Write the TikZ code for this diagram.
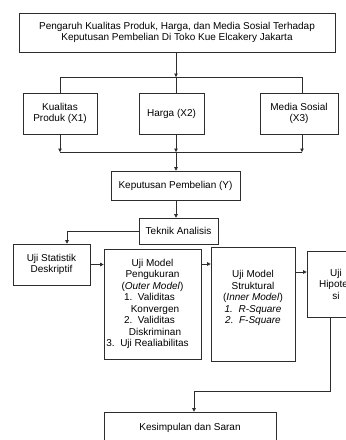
\documentclass[tikz,border=0pt]{standalone}
\usepackage{fontspec}
\setmainfont{Liberation Sans}
\usetikzlibrary{arrows.meta}
\definecolor{linec}{RGB}{45,45,45}
\tikzset{
  box/.style={draw=linec, line width=0.6pt, inner sep=0pt, align=center,
    font=\fontsize{10}{11.5}\selectfont, text=black},
  conn/.style={draw=linec, line width=0.6pt},
  arr/.style={conn, -{Triangle[length=3.5pt,width=3.5pt]}}
}
\begin{document}
\begin{tikzpicture}[x=1pt,y=-1pt]
\clip (0,0) rectangle (346,440);
\fill[white] (0,0) rectangle (346,440);

\node[box, minimum width=316, minimum height=39] (top) at (177,32.5)
  {Pengaruh Kualitas Produk, Harga, dan Media Sosial Terhadap\\Keputusan Pembelian Di Toko Kue Elcakery Jakarta};

\node[box, minimum width=74, minimum height=41] (kp) at (60,113.5) {Kualitas\\Produk (X1)};
\node[box, minimum width=65, minimum height=41] (hg) at (171.5,113.5) {Harga (X2)};
\node[box, minimum width=78, minimum height=41] (ms) at (299,113.5) {Media Sosial\\(X3)};

\node[box, minimum width=129, minimum height=29] (kep) at (175.5,185.5) {Keputusan Pembelian (Y)};
\node[box, minimum width=79, minimum height=26] (tek) at (178.5,231) {Teknik Analisis};

\node[box, minimum width=77, minimum height=41] (us) at (51.5,264.5) {Uji Statistik\\Deskriptif};
\node[box, minimum width=97, minimum height=110] (um) at (152.5,304)
  {Uji Model\\Pengukuran\\(\textit{Outer Model})\\\hspace*{-6pt}1.\ \ Validitas\\\hspace*{5pt}Konvergen\\\hspace*{-6pt}2.\ \ Validitas\\\hspace*{5pt}Diskriminan\\\hspace*{-10pt}3.\ \ Uji Realiabilitas};
\node[box, minimum width=84, minimum height=114] (sm) at (253,304)
  {Uji Model\\Struktural\\(\textit{Inner Model})\\\textit{1.\ \ R-Square}\\\textit{2.\ \ F-Square}\\[2pt]\mbox{}};
\node[box, minimum width=58, minimum height=66] (uh) at (336,284) {Uji\\Hipotes\\si};

\node[box, minimum width=172, minimum height=32] (ks) at (190,428) {Kesimpulan dan Saran};

% junctions
\coordinate (j1) at (176,77);
\coordinate (j1l) at (60,77);
\coordinate (j1r) at (302,77);
\coordinate (j2) at (176,152);
\coordinate (j2l) at (60,152);
\coordinate (j2r) at (302,152);
\coordinate (c1) at (67,231);
\coordinate (a2) at (0,264);
\coordinate (a3) at (0,272);
\coordinate (b1) at (330,391);
\coordinate (b2) at (194,391);

\draw[arr] (top.south -| j1) -- (j1);
\draw[conn] (j1l) -- (j1r);
\draw[conn] (j1l) -- (kp.north);
\draw[conn] (j1) -- (hg.north -| j1);
\draw[conn] (j1r) -- (ms.north -| j1r);

\draw[arr] (kp.south) -- (j2l);
\draw[arr] (hg.south -| j2) -- (j2);
\draw[arr] (ms.south -| j2r) -- (j2r);
\draw[conn] (j2l) -- (j2r);
\draw[arr] (j2) -- (kep.north -| j2);

\draw[arr] (kep.south -| j2) -- (tek.north -| j2);
\draw[arr] (tek.west) -| (us.north -| c1);

\draw[arr] (us.east) -- (um.west |- us.east);
\draw[arr] (um.east |- a2) -- (sm.west |- a2);
\draw[arr] (sm.east |- a3) -- (uh.west |- a3);
\draw[arr] (uh.south -| b1) -- (b1) -- (b2) -- (ks.north -| b2);
\end{tikzpicture}
\end{document}
